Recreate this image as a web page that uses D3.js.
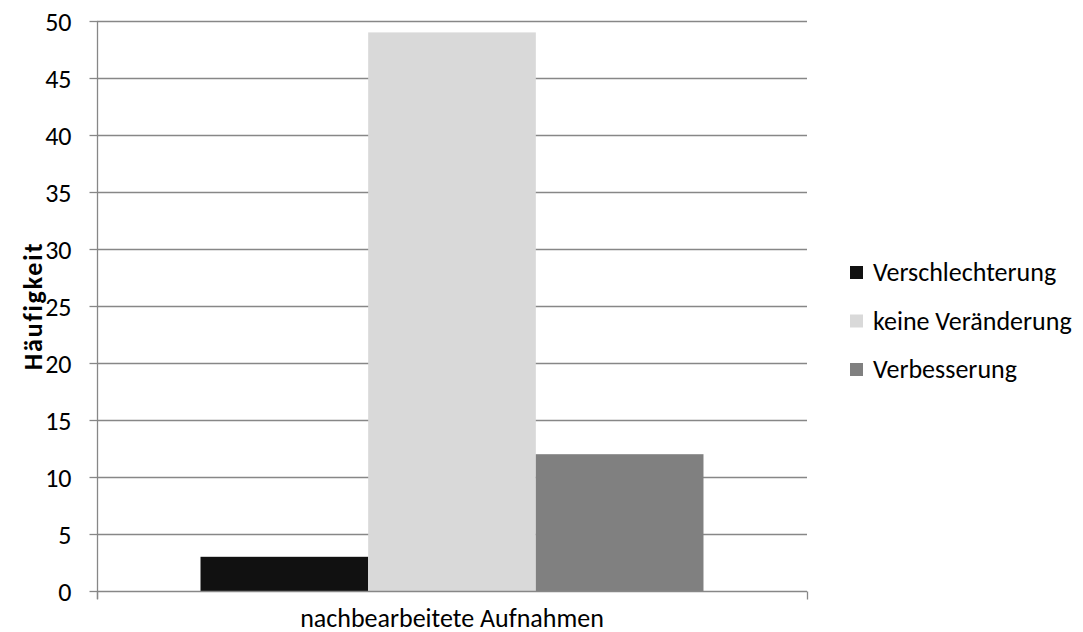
<!DOCTYPE html>
<html>
<head>
<meta charset="utf-8">
<script src="https://cdn.jsdelivr.net/npm/d3@7"></script>
<style>
  body { margin: 0; background: #fff; }
  svg text { font-family: Carlito, Calibri, Lato, "Open Sans", sans-serif; fill: #000; }
</style>
</head>
<body>
<svg id="chart" width="1083" height="632"></svg>
<script>
// Frequencies of image-quality change after post-processing
const categories = ["nachbearbeitete Aufnahmen"];
const seriesNames = ["Verschlechterung", "keine Veränderung", "Verbesserung"];
const seriesValues = [3, 49, 12];
const seriesColors = ["#111111", "#d9d9d9", "#808080"];
const yTicks = [0, 5, 10, 15, 20, 25, 30, 35, 40, 45, 50];

const svg = d3.select("#chart");
const plot = { left: 97, right: 807, top: 21, bottom: 591 };
const fontSize = "26px";

const y = d3.scaleLinear().domain([0, 50]).range([plot.bottom, plot.top]);
const x0 = d3.scaleBand().domain(categories).range([plot.left, plot.right])
  .paddingInner(0).paddingOuter(0.2058);
const x1 = d3.scaleBand().domain(seriesNames).range([0, x0.bandwidth()]).padding(0);

const gridColor = "#878787";

// horizontal gridlines
svg.append("g").selectAll("line").data(yTicks.filter(d => d > 0)).join("line")
  .attr("x1", plot.left).attr("x2", plot.right)
  .attr("y1", d => Math.round(y(d)) + 0.5).attr("y2", d => Math.round(y(d)) + 0.5)
  .attr("stroke", gridColor).attr("stroke-width", 1.3);

// bars
const rows = seriesNames.map((name, i) => ({ name, value: seriesValues[i], color: seriesColors[i] }));
svg.append("g").selectAll("rect").data(rows).join("rect")
  .attr("x", d => x0(categories[0]) + x1(d.name))
  .attr("width", x1.bandwidth())
  .attr("y", d => y(d.value))
  .attr("height", d => y(0) - y(d.value))
  .attr("fill", d => d.color);

// y axis
const yAxis = d3.axisLeft(y).tickValues(yTicks).tickSize(8).tickPadding(18);
const gy = svg.append("g").attr("transform", `translate(${plot.left + 0.5},0)`).call(yAxis);
gy.attr("font-size", null).attr("font-family", null);
gy.select(".domain").attr("d", `M0,${plot.top}V${plot.bottom + 8}`)
  .attr("stroke", gridColor).attr("stroke-width", 1.3);
gy.selectAll(".tick line").attr("stroke", gridColor).attr("stroke-width", 1.3);
gy.selectAll(".tick text").style("font-size", fontSize).attr("fill", "#000").attr("dy", "0.36em");

// x axis
const gx = svg.append("g").attr("transform", `translate(0,${Math.round(y(0)) + 0.5})`);
gx.append("line").attr("x1", plot.left).attr("x2", plot.right)
  .attr("stroke", gridColor).attr("stroke-width", 1.3);
gx.selectAll("line.edge").data([plot.left, plot.right]).join("line")
  .attr("class", "edge")
  .attr("x1", d => d + 0.5).attr("x2", d => d + 0.5).attr("y1", 0).attr("y2", 8)
  .attr("stroke", gridColor).attr("stroke-width", 1.3);
gx.selectAll("text").data(categories).join("text")
  .attr("x", d => x0(d) + x0.bandwidth() / 2)
  .attr("y", 35)
  .attr("text-anchor", "middle")
  .style("font-size", fontSize)
  .text(d => d);

// y-axis title
svg.append("text")
  .attr("transform", `translate(42,${(plot.top + plot.bottom) / 2}) rotate(-90)`)
  .attr("text-anchor", "middle")
  .style("font-size", fontSize).style("font-weight", "bold").style("letter-spacing", "1.8px")
  .text("Häufigkeit");

// legend
const legend = svg.append("g").attr("transform", "translate(850,272)");
const lg = legend.selectAll("g").data(rows).join("g")
  .attr("transform", (d, i) => `translate(0,${i * 48.5})`);
lg.append("rect").attr("x", 0).attr("y", -6).attr("width", 13).attr("height", 13)
  .attr("fill", d => d.color);
lg.append("text").attr("x", 23).attr("y", 9).style("font-size", fontSize).text(d => d.name);
</script>
</body>
</html>
